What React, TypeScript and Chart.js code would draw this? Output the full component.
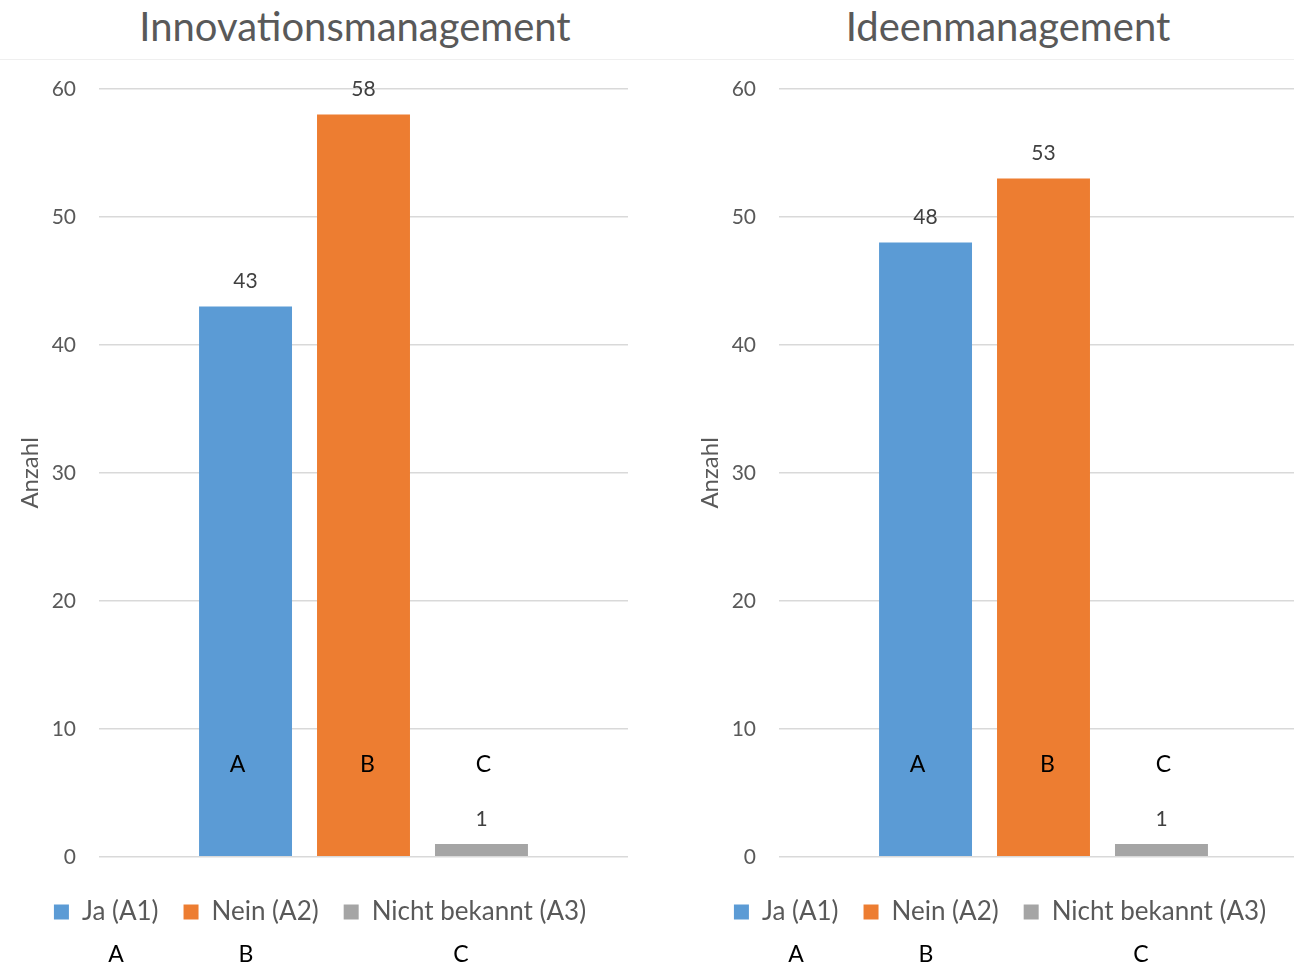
import React, { useEffect, useRef } from "react";
import { Chart, registerables } from "chart.js";

Chart.register(...registerables);

// ---- data ----
const SERIES_LABELS = ["Ja (A1)", "Nein (A2)", "Nicht bekannt (A3)"];
const INNOVATION_VALUES = [43, 58, 1];
const IDEEN_VALUES = [48, 53, 1];
const CHART_TITLES = ["Innovationsmanagement", "Ideenmanagement"];
const BAR_LETTERS = ["A", "B", "C"];
const BOTTOM_LETTERS = ["A", "B", "C"];
const Y_TITLE = "Anzahl";
const Y_MIN = 0;
const Y_MAX = 60;
const Y_STEP = 10;

// ---- styles ----
const COLORS = ["#5B9BD5", "#ED7D31", "#A5A5A5"];
const FONT = "Lato, 'Open Sans', sans-serif";
const TEXT_GRAY = "#595959";
const LETTER_LEVEL = 7.2;
const LETTER_DX = [-8, 4, 2];
const BOTTOM_LETTER_X = [116, 246, 461];
const CHART_LEFTS = [0, 680];
const TITLE_CENTERS = [355, 1008];

const labelPlugin = {
  id: "barLabels",
  afterDatasetsDraw(chart: any) {
    const ctx = chart.ctx;
    const yScale = chart.scales.y;
    chart.data.datasets.forEach((ds: any, i: number) => {
      const meta = chart.getDatasetMeta(i);
      meta.data.forEach((bar: any, j: number) => {
        const v = ds.data[j];
        ctx.save();
        ctx.textAlign = "center";
        ctx.textBaseline = "middle";
        ctx.font = `21px ${FONT}`;
        ctx.fillStyle = "#404040";
        ctx.fillText(String(v), bar.x, bar.y - 25);
        ctx.font = `23px ${FONT}`;
        ctx.fillStyle = "#000000";
        ctx.fillText(BAR_LETTERS[i], bar.x + LETTER_DX[i], yScale.getPixelForValue(LETTER_LEVEL));
        ctx.restore();
      });
    });
  },
};

function BarPanel({ values }: { values: number[] }) {
  const ref = useRef<HTMLCanvasElement>(null);
  useEffect(() => {
    if (!ref.current) return;
    const chart = new Chart(ref.current, {
      type: "bar",
      data: {
        labels: [""],
        datasets: SERIES_LABELS.map((label, i) => ({
          label,
          data: [values[i]],
          backgroundColor: COLORS[i],
          categoryPercentage: 0.669,
          barPercentage: 0.788,
        })),
      },
      options: {
        animation: false,
        responsive: false,
        layout: { padding: { left: 12, right: 18, top: 29, bottom: 5 } },
        plugins: {
          tooltip: { enabled: false },
          title: { display: false },
          legend: {
            position: "bottom",
            labels: {
              boxWidth: 15,
              boxHeight: 15,
              padding: 25,
              color: TEXT_GRAY,
              font: { family: FONT, size: 26 },
            },
          },
        },
        scales: {
          x: {
            display: true,
            grid: { display: false },
            border: { display: false },
            ticks: { padding: 4, font: { size: 1 } },
          },
          y: {
            min: Y_MIN,
            max: Y_MAX,
            ticks: {
              stepSize: Y_STEP,
              padding: 23,
              color: TEXT_GRAY,
              font: { family: FONT, size: 21 },
            },
            grid: { color: "#D9D9D9", drawTicks: false, lineWidth: 1.5 },
            border: { display: false },
            title: {
              display: true,
              text: Y_TITLE,
              color: TEXT_GRAY,
              font: { family: FONT, size: 24 },
            },
            afterFit(scale: any) {
              scale.width = 87;
              scale.paddingTop = 0;
              scale.paddingBottom = 0;
            },
          },
        },
      },
      plugins: [labelPlugin],
    } as any);
    return () => chart.destroy();
  }, [values]);
  return <canvas ref={ref} width={646} height={880} style={{ display: "block" }} />;
}

export default function App() {
  const panels = [INNOVATION_VALUES, IDEEN_VALUES];
  return (
    <div
      style={{
        position: "absolute",
        left: 0,
        top: 0,
        width: 1294,
        height: 966,
        overflow: "hidden",
        background: "#ffffff",
        fontFamily: FONT,
      }}
    >
      <div style={{ position: "absolute", left: 0, top: 59, width: 1294, height: 1, background: "#EFEFEF" }} />
      {panels.map((vals, p) => (
        <React.Fragment key={p}>
          <div
            style={{
              position: "absolute",
              left: TITLE_CENTERS[p],
              top: 5,
              transform: "translateX(-50%)",
              fontSize: 40,
              lineHeight: "42px",
              color: TEXT_GRAY,
              whiteSpace: "nowrap",
            }}
          >
            {CHART_TITLES[p]}
          </div>
          <div style={{ position: "absolute", left: CHART_LEFTS[p], top: 60, width: 646, height: 880 }}>
            <BarPanel values={vals} />
          </div>
          {BOTTOM_LETTERS.map((l, k) => (
            <div
              key={k}
              style={{
                position: "absolute",
                left: CHART_LEFTS[p] + BOTTOM_LETTER_X[k],
                top: 940,
                transform: "translateX(-50%)",
                fontSize: 23,
                lineHeight: "26px",
                color: "#000000",
              }}
            >
              {l}
            </div>
          ))}
        </React.Fragment>
      ))}
    </div>
  );
}
